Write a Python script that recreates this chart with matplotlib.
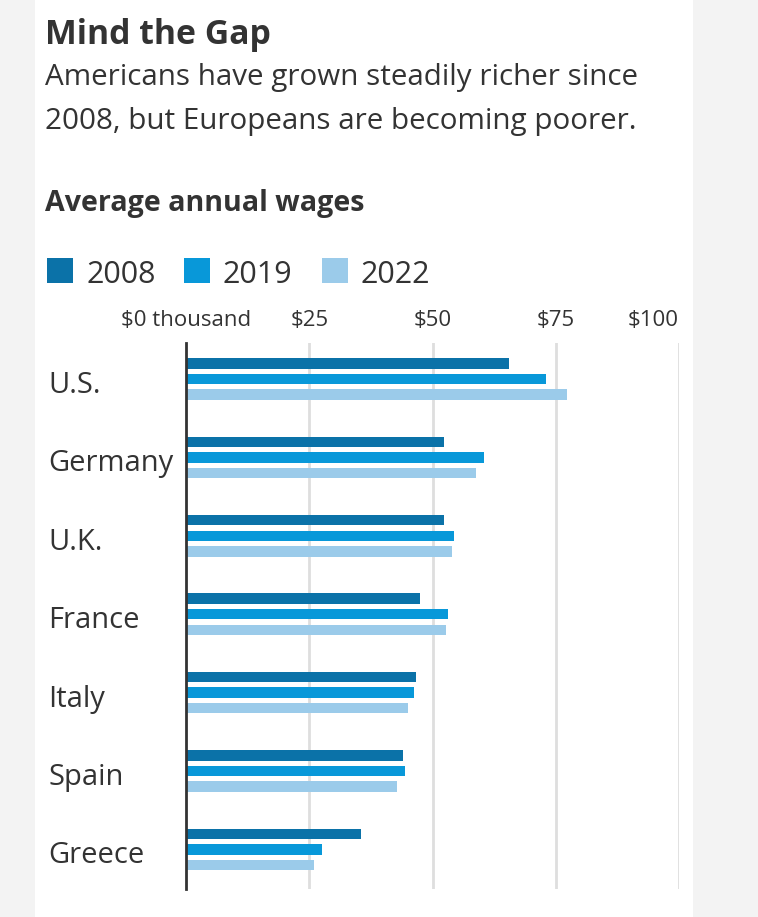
import matplotlib
matplotlib.use("Agg")
import matplotlib.pyplot as plt
import matplotlib.patches as mpatches
import numpy as np

plt.rcParams["font.family"] = ["Open Sans", "DejaVu Sans"]

# data (thousand US$)
countries = ["U.S.", "Germany", "U.K.", "France", "Italy", "Spain", "Greece"]
years = ["2008", "2019", "2022"]
wages_2008 = [65.6, 52.3, 52.3, 47.5, 46.7, 44.1, 35.4]
wages_2019 = [73.0, 60.5, 54.4, 53.1, 46.3, 44.5, 27.6]
wages_2022 = [77.3, 58.8, 54.0, 52.7, 45.0, 42.8, 26.0]
xticks = [0, 25, 50, 75, 100]
xtick_labels = ["$0 thousand", "$25", "$50", "$75", "$100"]

colors = ["#0b72a8", "#0898d9", "#9bcbea"]
TEXT = "#333333"
W, H = 758, 917

fig = plt.figure(figsize=(W / 100, H / 100), dpi=100, facecolor="#f3f3f3")

# white card
fig.add_artist(mpatches.Rectangle((35 / W, 0), (693 - 35) / W, 1,
                                  transform=fig.transFigure, facecolor="white",
                                  edgecolor="none", zorder=0))


def fy(px):
    return 1 - px / H


fig.text(45 / W, fy(44), "Mind the Gap", fontsize=24.3, fontweight="bold",
         color=TEXT, va="baseline")
fig.text(45 / W, fy(85), "Americans have grown steadily richer since",
         fontsize=21.3, color=TEXT, va="baseline")
fig.text(45 / W, fy(129), "2008, but Europeans are becoming poorer.",
         fontsize=21.3, color=TEXT, va="baseline")
fig.text(45 / W, fy(211), "Average annual wages", fontsize=20.6,
         fontweight="bold", color=TEXT, va="baseline")

# legend
leg_x = [47, 184, 322]
for lx, yr, c in zip(leg_x, years, colors):
    fig.add_artist(mpatches.Rectangle((lx / W, fy(283)), 26 / W, 25 / H,
                                      transform=fig.transFigure, facecolor=c,
                                      edgecolor="none"))
    fig.text((lx + 39) / W, fy(283), yr, fontsize=22, color=TEXT, va="baseline")

# axes
ax_top, ax_bot, ax_left, ax_right = 343, 889, 186, 679
ax = fig.add_axes([ax_left / W, fy(ax_bot), (ax_right - ax_left) / W,
                   (ax_bot - ax_top) / H])
ax.set_facecolor("none")

group = 78.4
center0 = 379
ax.set_xlim(0, 100)
ax.set_ylim((ax_bot - center0) / group, (ax_top - center0) / group)

y = np.arange(len(countries))
step = 15.6 / group
bar_h = 10.4 / group
for k, (vals, c) in enumerate(zip([wages_2008, wages_2019, wages_2022], colors)):
    ax.barh(y + (k - 1) * step, vals, height=bar_h, color=c, zorder=3)

for t in xticks[1:]:
    ax.axvline(t, color="#dedede", lw=2, zorder=1)

for s in ["top", "right", "bottom"]:
    ax.spines[s].set_visible(False)
ax.spines["left"].set_color("#333333")
ax.spines["left"].set_linewidth(2)
ax.spines["left"].set_zorder(4)
ax.set_xticks([])
ax.set_yticks([])

label_y = (ax_bot - 321) / (ax_bot - ax_top)
for t, lab in zip(xticks, xtick_labels):
    ha = "right" if t == xticks[-1] else "center"
    ax.text(t, label_y, lab, transform=ax.get_xaxis_transform(),
            ha=ha, va="center", fontsize=16, color=TEXT, clip_on=False)

lab_x = (48 - ax_left) / (ax_right - ax_left)
for i, name in enumerate(countries):
    ax.text(lab_x, i + 14 / group, name, transform=ax.get_yaxis_transform(),
            ha="left", va="baseline", fontsize=21, color=TEXT, clip_on=False)

fig.savefig("out.png", dpi=100, facecolor=fig.get_facecolor())
